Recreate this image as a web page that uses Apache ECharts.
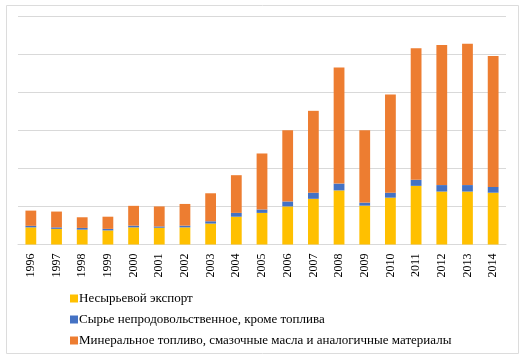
<!DOCTYPE html>
<html>
<head>
<meta charset="utf-8">
<script src="https://cdn.jsdelivr.net/npm/echarts@6/dist/echarts.min.js"></script>
<style>html,body{margin:0;padding:0;background:#fff;}#c{width:521px;height:358px;}</style>
</head>
<body>
<div id="c"></div>
<script>
var years = ['1996','1997','1998','1999','2000','2001','2002','2003','2004','2005','2006','2007','2008','2009','2010','2011','2012','2013','2014'];
var nonRaw = [45, 41, 39, 37, 45, 44, 45, 55, 73, 83, 100, 120, 142, 102, 123, 154, 139, 139, 136];
var rawNonFood = [4, 4, 4.5, 4, 4.5, 3.5, 4.5, 6, 10, 9, 13, 16, 18, 8, 13, 16, 17, 17, 15];
var fuel = [40, 41.5, 28, 32, 52, 52.5, 57, 73.5, 99, 147, 187, 215, 305, 190, 258, 345, 368, 371, 344];
var names = ['Несырьевой экспорт', 'Сырье непродовольственное, кроме топлива', 'Минеральное топливо, смазочные масла и аналогичные материалы'];
var colors = ['#FFC000', '#4472C4', '#ED7D31'];

var chart = echarts.init(document.getElementById('c'), null, {renderer: 'canvas'});
var font = '"Liberation Serif", "Times New Roman", serif';
function mk(i, data) {
  return {name: names[i], type: 'bar', stack: 'a', data: data, barWidth: '42%',
    itemStyle: {color: colors[i]}, emphasis: {disabled: true}};
}
chart.setOption({
  animation: false,
  backgroundColor: '#fff',
  graphic: [{type: 'rect', shape: {x: 6.5, y: 5.5, width: 512, height: 348},
    style: {fill: 'none', stroke: '#dcdcdc', lineWidth: 1}, silent: true}],
  grid: {left: 18, right: 15, top: 16, bottom: 113.5, containLabel: false},
  legend: {orient: 'vertical', left: 65, top: 287, itemGap: 8, itemWidth: 8, itemHeight: 8,
    icon: 'rect', selectedMode: false,
    textStyle: {fontFamily: font, fontSize: 13, color: '#000', padding: [0, 0, 0, -4]},
    data: names},
  xAxis: {type: 'category', data: years,
    axisLine: {show: true, lineStyle: {color: '#d9d9d9', width: 1}},
    axisTick: {show: false},
    axisLabel: {rotate: 90, fontFamily: font, fontSize: 12, color: '#000', margin: 9, interval: 0}},
  yAxis: {type: 'value', min: 0, max: 600, interval: 100,
    axisLabel: {show: false}, axisLine: {show: false}, axisTick: {show: false},
    splitLine: {lineStyle: {color: '#d9d9d9', width: 1}}},
  series: [mk(0, nonRaw), mk(1, rawNonFood), mk(2, fuel)]
});
</script>
</body>
</html>
